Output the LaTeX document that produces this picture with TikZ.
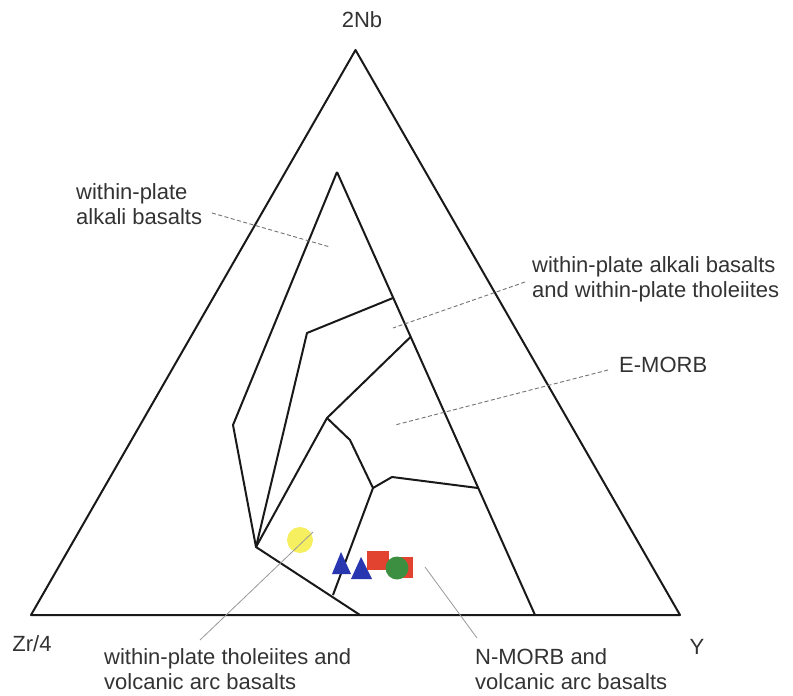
\documentclass[tikz,border=0pt]{standalone}
\usepackage{fontspec}
\setmainfont{Liberation Sans}
\begin{document}
\begin{tikzpicture}[x=1pt,y=-1pt,
  bound/.style={line width=2pt,black!90,line join=round},
  lbl/.style={inner sep=0pt,text=black!80,font=\fontsize{22}{25}\selectfont,align=left},
  leaddash/.style={gray!90!black,line width=0.9pt,dash pattern=on 4pt off 2.5pt},
  leadsolid/.style={gray!80,line width=0.8pt},
  tri/.style={fill={rgb,255:red,40;green,55;blue,175},draw=none},
  sq/.style={fill={rgb,255:red,226;green,66;blue,48},draw=none},
  grn/.style={fill={rgb,255:red,60;green,142;blue,64},draw=none},
  yel/.style={fill={rgb,255:red,246;green,240;blue,96},draw=none}]
\useasboundingbox (0,0) rectangle (793,696);
\fill[white] (0,0) rectangle (793,696);
% corner points
\coordinate (A) at (355.5,50);
\coordinate (L) at (31,615);
\coordinate (R) at (680,615);
\coordinate (P) at (337,172);
\coordinate (Q) at (535,615);
\coordinate (B1) at (233,425);
\coordinate (V) at (256,547);
\coordinate (B2) at (360,615);
\coordinate (C1) at (393,298);
\coordinate (C2) at (307,333);
\coordinate (D1) at (410.5,337);
\coordinate (D2) at (327,418);
\coordinate (E1) at (350,440);
\coordinate (E2) at (373,488);
\coordinate (E3) at (392,477);
\coordinate (E4) at (478,488);
\coordinate (F) at (333,595);
% field boundaries
\draw[bound] (A) -- (L) -- (R) -- cycle;
\draw[bound] (P) -- (Q);
\draw[bound] (P) -- (B1) -- (V) -- (B2);
\draw[bound] (C1) -- (C2) -- (V);
\draw[bound] (D1) -- (D2) -- (V);
\draw[bound] (D2) -- (E1) -- (E2) -- (E3) -- (E4);
\draw[bound] (E2) -- (F);
% data points
\fill[yel] (300,540) circle (13);
\fill[tri] (341,552) -- (332,574) -- (351,574) -- cycle;
\fill[tri] (361,557) -- (351,579) -- (372,579) -- cycle;
\fill[sq] (367,551) rectangle (389,570);
\fill[sq] (395,557) rectangle (413,578);
\fill[grn] (397,568) circle (11.5);
% apex labels
\node[lbl] (nb) at (362,20) {2Nb};
\node[lbl] (zr) at (32,644) {Zr/4};
\node[lbl] (y) at (697,647) {Y};
% field labels
\node[lbl,anchor=west] (wpab) at (76,204.5) {within-plate\\alkali basalts};
\node[lbl,anchor=west] (wpt) at (532,279.5) {within-plate alkali basalts\\and within-plate tholeiites};
\node[lbl,anchor=west] (emorb) at (619,365) {E-MORB};
\node[lbl,anchor=west] (vab) at (104,669.5) {within-plate tholeiites and\\volcanic arc basalts};
\node[lbl,anchor=west] (nmorb) at (475,669.5) {N-MORB and\\volcanic arc basalts};
% leader ends
\coordinate (l1a) at (212,213); \coordinate (l1b) at (330,247);
\coordinate (l2a) at (525,282); \coordinate (l2b) at (393,328);
\coordinate (l3a) at (608,370); \coordinate (l3b) at (395,425);
\coordinate (l4a) at (200,640); \coordinate (l4b) at (313,532);
\coordinate (l5a) at (477,638); \coordinate (l5b) at (425,567);
\draw[leaddash] (l1a) -- (l1b);
\draw[leaddash] (l2a) -- (l2b);
\draw[leaddash] (l3a) -- (l3b);
\draw[leadsolid] (l4a) -- (l4b);
\draw[leadsolid] (l5a) -- (l5b);
\end{tikzpicture}
\end{document}
